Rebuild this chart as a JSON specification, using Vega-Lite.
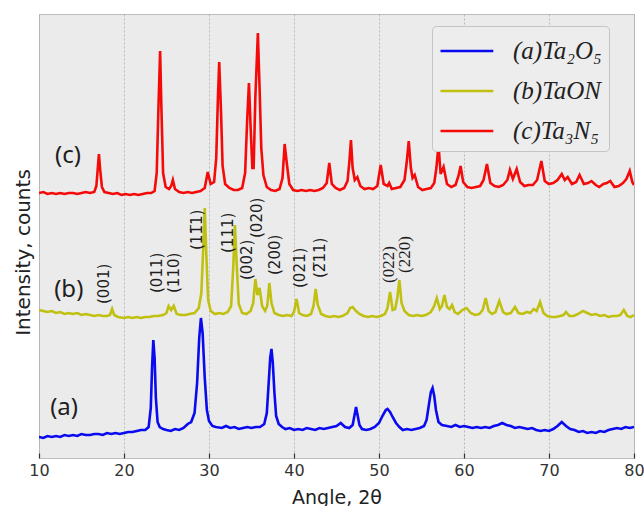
{
  "$schema": "https://vega.github.io/schema/vega-lite/v6.json",
  "width": 595,
  "height": 444,
  "autosize": {"type": "none"},
  "padding": {"left": 39, "top": 14, "right": 10, "bottom": 48},
  "background": "white",
  "config": {
    "view": {"fill": "#ebebeb", "stroke": "#bdbdbd", "strokeWidth": 1},
    "font": "DejaVu Sans"
  },
  "datasets": {
    "patterns": [
      {"s":"a","x":10,"y":21},{"s":"a","x":10.5,"y":20},{"s":"a","x":11,"y":22},{"s":"a","x":11.5,"y":21},{"s":"a","x":12,"y":22},{"s":"a","x":12.5,"y":21},{"s":"a","x":13,"y":23},{"s":"a","x":13.5,"y":22},{"s":"a","x":14,"y":23},{"s":"a","x":14.5,"y":22},{"s":"a","x":15,"y":24},{"s":"a","x":15.5,"y":23},{"s":"a","x":16,"y":23},{"s":"a","x":16.5,"y":24},{"s":"a","x":17,"y":24},{"s":"a","x":17.5,"y":23},{"s":"a","x":18,"y":25},{"s":"a","x":18.5,"y":24},{"s":"a","x":19,"y":25},{"s":"a","x":19.5,"y":24},{"s":"a","x":20,"y":25},{"s":"a","x":20.5,"y":26},{"s":"a","x":21,"y":26},{"s":"a","x":21.5,"y":27},{"s":"a","x":22,"y":28},{"s":"a","x":22.5,"y":28},{"s":"a","x":22.9,"y":31},{"s":"a","x":23.15,"y":50},{"s":"a","x":23.3,"y":90},{"s":"a","x":23.45,"y":118},{"s":"a","x":23.6,"y":100},{"s":"a","x":23.75,"y":60},{"s":"a","x":23.95,"y":36},{"s":"a","x":24.2,"y":31},{"s":"a","x":24.6,"y":29},{"s":"a","x":25,"y":28},{"s":"a","x":25.5,"y":27},{"s":"a","x":26,"y":29},{"s":"a","x":26.5,"y":28},{"s":"a","x":27,"y":30},{"s":"a","x":27.5,"y":34},{"s":"a","x":27.9,"y":36},{"s":"a","x":28.3,"y":45},{"s":"a","x":28.6,"y":75},{"s":"a","x":28.85,"y":120},{"s":"a","x":29.05,"y":140},{"s":"a","x":29.25,"y":125},{"s":"a","x":29.5,"y":80},{"s":"a","x":29.75,"y":48},{"s":"a","x":30,"y":37},{"s":"a","x":30.4,"y":32},{"s":"a","x":30.8,"y":31},{"s":"a","x":31.5,"y":30},{"s":"a","x":32,"y":32},{"s":"a","x":32.5,"y":30},{"s":"a","x":33,"y":31},{"s":"a","x":33.5,"y":29},{"s":"a","x":34,"y":30},{"s":"a","x":34.5,"y":31},{"s":"a","x":35,"y":30},{"s":"a","x":35.5,"y":31},{"s":"a","x":36,"y":31},{"s":"a","x":36.5,"y":34},{"s":"a","x":36.8,"y":45},{"s":"a","x":37,"y":72},{"s":"a","x":37.2,"y":100},{"s":"a","x":37.35,"y":109},{"s":"a","x":37.5,"y":96},{"s":"a","x":37.7,"y":65},{"s":"a","x":37.9,"y":42},{"s":"a","x":38.2,"y":34},{"s":"a","x":38.6,"y":31},{"s":"a","x":39,"y":29},{"s":"a","x":39.5,"y":30},{"s":"a","x":40,"y":28},{"s":"a","x":40.5,"y":29},{"s":"a","x":41,"y":28},{"s":"a","x":41.5,"y":30},{"s":"a","x":42,"y":29},{"s":"a","x":42.5,"y":28},{"s":"a","x":43,"y":30},{"s":"a","x":43.5,"y":29},{"s":"a","x":44,"y":30},{"s":"a","x":44.5,"y":31},{"s":"a","x":45,"y":32},{"s":"a","x":45.5,"y":35},{"s":"a","x":46,"y":31},{"s":"a","x":46.5,"y":30},{"s":"a","x":46.9,"y":33},{"s":"a","x":47.1,"y":42},{"s":"a","x":47.3,"y":51},{"s":"a","x":47.5,"y":42},{"s":"a","x":47.7,"y":33},{"s":"a","x":48,"y":29},{"s":"a","x":48.5,"y":28},{"s":"a","x":49,"y":29},{"s":"a","x":49.5,"y":31},{"s":"a","x":50,"y":35},{"s":"a","x":50.4,"y":42},{"s":"a","x":50.8,"y":48},{"s":"a","x":51,"y":49},{"s":"a","x":51.3,"y":46},{"s":"a","x":51.6,"y":41},{"s":"a","x":52,"y":35},{"s":"a","x":52.4,"y":31},{"s":"a","x":52.8,"y":28},{"s":"a","x":53.3,"y":29},{"s":"a","x":53.8,"y":28},{"s":"a","x":54.3,"y":29},{"s":"a","x":54.8,"y":30},{"s":"a","x":55.3,"y":32},{"s":"a","x":55.6,"y":38},{"s":"a","x":55.9,"y":55},{"s":"a","x":56.1,"y":66},{"s":"a","x":56.3,"y":70},{"s":"a","x":56.5,"y":62},{"s":"a","x":56.7,"y":48},{"s":"a","x":57,"y":36},{"s":"a","x":57.4,"y":33},{"s":"a","x":58,"y":32},{"s":"a","x":58.5,"y":31},{"s":"a","x":59,"y":33},{"s":"a","x":59.5,"y":31},{"s":"a","x":60,"y":32},{"s":"a","x":60.5,"y":31},{"s":"a","x":61,"y":30},{"s":"a","x":61.5,"y":31},{"s":"a","x":62,"y":30},{"s":"a","x":62.5,"y":31},{"s":"a","x":63,"y":30},{"s":"a","x":63.5,"y":32},{"s":"a","x":64,"y":33},{"s":"a","x":64.5,"y":35},{"s":"a","x":65,"y":33},{"s":"a","x":65.5,"y":32},{"s":"a","x":66,"y":30},{"s":"a","x":66.5,"y":31},{"s":"a","x":67,"y":30},{"s":"a","x":67.5,"y":29},{"s":"a","x":68,"y":30},{"s":"a","x":68.5,"y":28},{"s":"a","x":69,"y":27},{"s":"a","x":69.5,"y":28},{"s":"a","x":70,"y":27},{"s":"a","x":70.5,"y":29},{"s":"a","x":71,"y":32},{"s":"a","x":71.5,"y":36},{"s":"a","x":72,"y":32},{"s":"a","x":72.5,"y":29},{"s":"a","x":73,"y":28},{"s":"a","x":73.5,"y":26},{"s":"a","x":74,"y":27},{"s":"a","x":74.5,"y":25},{"s":"a","x":75,"y":26},{"s":"a","x":75.5,"y":25},{"s":"a","x":76,"y":27},{"s":"a","x":76.5,"y":26},{"s":"a","x":77,"y":28},{"s":"a","x":77.5,"y":29},{"s":"a","x":78,"y":30},{"s":"a","x":78.5,"y":29},{"s":"a","x":79,"y":31},{"s":"a","x":79.5,"y":30},{"s":"a","x":80,"y":31},

      {"s":"b","x":10,"y":148},{"s":"b","x":10.5,"y":147},{"s":"b","x":11,"y":146},{"s":"b","x":11.5,"y":147},{"s":"b","x":12,"y":145},{"s":"b","x":12.5,"y":146},{"s":"b","x":13,"y":144},{"s":"b","x":13.5,"y":145},{"s":"b","x":14,"y":144},{"s":"b","x":14.5,"y":145},{"s":"b","x":15,"y":143},{"s":"b","x":15.5,"y":144},{"s":"b","x":16,"y":143},{"s":"b","x":16.5,"y":142},{"s":"b","x":17,"y":143},{"s":"b","x":17.5,"y":142},{"s":"b","x":18,"y":142},{"s":"b","x":18.35,"y":143},{"s":"b","x":18.6,"y":149},{"s":"b","x":18.85,"y":143},{"s":"b","x":19.3,"y":141},{"s":"b","x":20,"y":140},{"s":"b","x":20.5,"y":141},{"s":"b","x":21,"y":140},{"s":"b","x":21.5,"y":141},{"s":"b","x":22,"y":140},{"s":"b","x":22.5,"y":141},{"s":"b","x":23,"y":141},{"s":"b","x":23.5,"y":142},{"s":"b","x":24,"y":142},{"s":"b","x":24.6,"y":143},{"s":"b","x":25,"y":145},{"s":"b","x":25.25,"y":152},{"s":"b","x":25.55,"y":148},{"s":"b","x":25.85,"y":152},{"s":"b","x":26.2,"y":144},{"s":"b","x":26.7,"y":143},{"s":"b","x":27.2,"y":143},{"s":"b","x":27.7,"y":144},{"s":"b","x":28.3,"y":145},{"s":"b","x":28.8,"y":150},{"s":"b","x":29.1,"y":165},{"s":"b","x":29.3,"y":205},{"s":"b","x":29.5,"y":250},{"s":"b","x":29.7,"y":200},{"s":"b","x":29.9,"y":158},{"s":"b","x":30.2,"y":147},{"s":"b","x":30.7,"y":144},{"s":"b","x":31.2,"y":145},{"s":"b","x":31.7,"y":144},{"s":"b","x":32.2,"y":146},{"s":"b","x":32.6,"y":152},{"s":"b","x":32.85,"y":190},{"s":"b","x":33.05,"y":233},{"s":"b","x":33.25,"y":195},{"s":"b","x":33.5,"y":154},{"s":"b","x":33.9,"y":145},{"s":"b","x":34.4,"y":144},{"s":"b","x":34.9,"y":147},{"s":"b","x":35.2,"y":155},{"s":"b","x":35.45,"y":179},{"s":"b","x":35.7,"y":163},{"s":"b","x":35.95,"y":170},{"s":"b","x":36.25,"y":152},{"s":"b","x":36.6,"y":147},{"s":"b","x":36.85,"y":152},{"s":"b","x":37.1,"y":175},{"s":"b","x":37.35,"y":155},{"s":"b","x":37.7,"y":145},{"s":"b","x":38.2,"y":143},{"s":"b","x":38.7,"y":142},{"s":"b","x":39.2,"y":143},{"s":"b","x":39.7,"y":142},{"s":"b","x":40,"y":146},{"s":"b","x":40.3,"y":159},{"s":"b","x":40.6,"y":145},{"s":"b","x":41,"y":143},{"s":"b","x":41.5,"y":142},{"s":"b","x":42,"y":144},{"s":"b","x":42.3,"y":152},{"s":"b","x":42.55,"y":169},{"s":"b","x":42.8,"y":153},{"s":"b","x":43.2,"y":144},{"s":"b","x":43.7,"y":142},{"s":"b","x":44.2,"y":141},{"s":"b","x":44.7,"y":142},{"s":"b","x":45.2,"y":141},{"s":"b","x":45.7,"y":142},{"s":"b","x":46.3,"y":145},{"s":"b","x":46.6,"y":150},{"s":"b","x":46.9,"y":151},{"s":"b","x":47.3,"y":147},{"s":"b","x":47.7,"y":144},{"s":"b","x":48.2,"y":142},{"s":"b","x":48.7,"y":141},{"s":"b","x":49.2,"y":142},{"s":"b","x":49.7,"y":141},{"s":"b","x":50.2,"y":142},{"s":"b","x":50.7,"y":144},{"s":"b","x":51,"y":150},{"s":"b","x":51.3,"y":166},{"s":"b","x":51.6,"y":148},{"s":"b","x":51.9,"y":149},{"s":"b","x":52.15,"y":160},{"s":"b","x":52.4,"y":178},{"s":"b","x":52.65,"y":155},{"s":"b","x":53,"y":147},{"s":"b","x":53.5,"y":143},{"s":"b","x":54,"y":142},{"s":"b","x":54.5,"y":143},{"s":"b","x":55,"y":142},{"s":"b","x":55.5,"y":143},{"s":"b","x":56.1,"y":146},{"s":"b","x":56.5,"y":152},{"s":"b","x":56.8,"y":160},{"s":"b","x":57.15,"y":149},{"s":"b","x":57.4,"y":152},{"s":"b","x":57.7,"y":163},{"s":"b","x":58,"y":151},{"s":"b","x":58.3,"y":149},{"s":"b","x":58.6,"y":153},{"s":"b","x":58.9,"y":146},{"s":"b","x":59.3,"y":144},{"s":"b","x":59.8,"y":148},{"s":"b","x":60.3,"y":150},{"s":"b","x":60.8,"y":145},{"s":"b","x":61.3,"y":143},{"s":"b","x":61.8,"y":144},{"s":"b","x":62.2,"y":148},{"s":"b","x":62.55,"y":160},{"s":"b","x":62.9,"y":147},{"s":"b","x":63.3,"y":144},{"s":"b","x":63.7,"y":146},{"s":"b","x":64.15,"y":157},{"s":"b","x":64.6,"y":146},{"s":"b","x":65,"y":144},{"s":"b","x":65.5,"y":145},{"s":"b","x":66,"y":151},{"s":"b","x":66.4,"y":145},{"s":"b","x":66.9,"y":144},{"s":"b","x":67.4,"y":146},{"s":"b","x":67.8,"y":145},{"s":"b","x":68.2,"y":149},{"s":"b","x":68.55,"y":147},{"s":"b","x":68.95,"y":156},{"s":"b","x":69.35,"y":145},{"s":"b","x":69.8,"y":142},{"s":"b","x":70.3,"y":141},{"s":"b","x":70.8,"y":141},{"s":"b","x":71.3,"y":142},{"s":"b","x":71.7,"y":143},{"s":"b","x":72,"y":146},{"s":"b","x":72.4,"y":142},{"s":"b","x":72.9,"y":142},{"s":"b","x":73.4,"y":144},{"s":"b","x":74,"y":147},{"s":"b","x":74.5,"y":145},{"s":"b","x":75,"y":143},{"s":"b","x":75.5,"y":144},{"s":"b","x":76,"y":142},{"s":"b","x":76.5,"y":143},{"s":"b","x":77,"y":141},{"s":"b","x":77.5,"y":142},{"s":"b","x":78,"y":142},{"s":"b","x":78.4,"y":143},{"s":"b","x":78.8,"y":148},{"s":"b","x":79.2,"y":142},{"s":"b","x":79.6,"y":141},{"s":"b","x":80,"y":143},

      {"s":"c","x":10,"y":265},{"s":"c","x":10.5,"y":266},{"s":"c","x":11,"y":264},{"s":"c","x":11.5,"y":265},{"s":"c","x":12,"y":264},{"s":"c","x":12.5,"y":265},{"s":"c","x":13,"y":264},{"s":"c","x":13.5,"y":265},{"s":"c","x":14,"y":265},{"s":"c","x":14.5,"y":264},{"s":"c","x":15,"y":265},{"s":"c","x":15.5,"y":266},{"s":"c","x":16,"y":265},{"s":"c","x":16.5,"y":266},{"s":"c","x":16.75,"y":272},{"s":"c","x":16.9,"y":288},{"s":"c","x":17.05,"y":304},{"s":"c","x":17.2,"y":288},{"s":"c","x":17.4,"y":271},{"s":"c","x":17.7,"y":266},{"s":"c","x":18.2,"y":265},{"s":"c","x":18.7,"y":264},{"s":"c","x":19.2,"y":265},{"s":"c","x":19.7,"y":263},{"s":"c","x":20.2,"y":264},{"s":"c","x":20.7,"y":263},{"s":"c","x":21.2,"y":264},{"s":"c","x":21.7,"y":263},{"s":"c","x":22.2,"y":264},{"s":"c","x":22.7,"y":265},{"s":"c","x":23.2,"y":265},{"s":"c","x":23.6,"y":267},{"s":"c","x":23.85,"y":285},{"s":"c","x":24.05,"y":350},{"s":"c","x":24.25,"y":407},{"s":"c","x":24.4,"y":350},{"s":"c","x":24.6,"y":285},{"s":"c","x":24.9,"y":271},{"s":"c","x":25.3,"y":269},{"s":"c","x":25.55,"y":272},{"s":"c","x":25.75,"y":278},{"s":"c","x":26,"y":269},{"s":"c","x":26.5,"y":266},{"s":"c","x":27,"y":265},{"s":"c","x":27.5,"y":266},{"s":"c","x":28,"y":265},{"s":"c","x":28.5,"y":266},{"s":"c","x":29,"y":267},{"s":"c","x":29.5,"y":270},{"s":"c","x":29.85,"y":286},{"s":"c","x":30.2,"y":274},{"s":"c","x":30.6,"y":276},{"s":"c","x":30.85,"y":300},{"s":"c","x":31.05,"y":360},{"s":"c","x":31.2,"y":396},{"s":"c","x":31.4,"y":350},{"s":"c","x":31.6,"y":292},{"s":"c","x":31.9,"y":274},{"s":"c","x":32.4,"y":270},{"s":"c","x":32.9,"y":268},{"s":"c","x":33.4,"y":268},{"s":"c","x":33.9,"y":270},{"s":"c","x":34.25,"y":285},{"s":"c","x":34.5,"y":340},{"s":"c","x":34.7,"y":375},{"s":"c","x":34.9,"y":330},{"s":"c","x":35.1,"y":290},{"s":"c","x":35.25,"y":290},{"s":"c","x":35.45,"y":360},{"s":"c","x":35.75,"y":425},{"s":"c","x":35.95,"y":370},{"s":"c","x":36.15,"y":310},{"s":"c","x":36.4,"y":283},{"s":"c","x":36.8,"y":271},{"s":"c","x":37.3,"y":268},{"s":"c","x":37.8,"y":267},{"s":"c","x":38.3,"y":269},{"s":"c","x":38.65,"y":280},{"s":"c","x":38.9,"y":314},{"s":"c","x":39.15,"y":295},{"s":"c","x":39.45,"y":274},{"s":"c","x":39.9,"y":268},{"s":"c","x":40.4,"y":267},{"s":"c","x":40.9,"y":268},{"s":"c","x":41.4,"y":267},{"s":"c","x":41.9,"y":268},{"s":"c","x":42.4,"y":267},{"s":"c","x":42.9,"y":268},{"s":"c","x":43.4,"y":270},{"s":"c","x":43.85,"y":275},{"s":"c","x":44.15,"y":295},{"s":"c","x":44.45,"y":274},{"s":"c","x":44.9,"y":270},{"s":"c","x":45.4,"y":268},{"s":"c","x":45.9,"y":270},{"s":"c","x":46.3,"y":277},{"s":"c","x":46.5,"y":295},{"s":"c","x":46.7,"y":318},{"s":"c","x":46.9,"y":290},{"s":"c","x":47.15,"y":278},{"s":"c","x":47.45,"y":281},{"s":"c","x":47.8,"y":272},{"s":"c","x":48.3,"y":269},{"s":"c","x":48.8,"y":270},{"s":"c","x":49.3,"y":269},{"s":"c","x":49.8,"y":272},{"s":"c","x":50.2,"y":293},{"s":"c","x":50.55,"y":274},{"s":"c","x":51,"y":272},{"s":"c","x":51.2,"y":275},{"s":"c","x":51.5,"y":269},{"s":"c","x":52,"y":270},{"s":"c","x":52.5,"y":271},{"s":"c","x":53,"y":278},{"s":"c","x":53.25,"y":295},{"s":"c","x":53.5,"y":317},{"s":"c","x":53.75,"y":290},{"s":"c","x":53.95,"y":280},{"s":"c","x":54.2,"y":283},{"s":"c","x":54.6,"y":271},{"s":"c","x":55.1,"y":268},{"s":"c","x":55.6,"y":269},{"s":"c","x":56.1,"y":270},{"s":"c","x":56.5,"y":275},{"s":"c","x":56.75,"y":290},{"s":"c","x":57,"y":313},{"s":"c","x":57.25,"y":284},{"s":"c","x":57.6,"y":291},{"s":"c","x":58,"y":274},{"s":"c","x":58.5,"y":271},{"s":"c","x":59,"y":273},{"s":"c","x":59.35,"y":282},{"s":"c","x":59.6,"y":292},{"s":"c","x":59.9,"y":276},{"s":"c","x":60.4,"y":271},{"s":"c","x":60.9,"y":270},{"s":"c","x":61.4,"y":271},{"s":"c","x":61.9,"y":272},{"s":"c","x":62.3,"y":278},{"s":"c","x":62.7,"y":294},{"s":"c","x":63.1,"y":275},{"s":"c","x":63.6,"y":272},{"s":"c","x":64.1,"y":271},{"s":"c","x":64.6,"y":273},{"s":"c","x":65.1,"y":278},{"s":"c","x":65.4,"y":288},{"s":"c","x":65.75,"y":279},{"s":"c","x":66.2,"y":289},{"s":"c","x":66.6,"y":276},{"s":"c","x":67.1,"y":272},{"s":"c","x":67.6,"y":273},{"s":"c","x":68.1,"y":273},{"s":"c","x":68.6,"y":278},{"s":"c","x":69.1,"y":297},{"s":"c","x":69.5,"y":277},{"s":"c","x":70,"y":274},{"s":"c","x":70.5,"y":275},{"s":"c","x":71,"y":278},{"s":"c","x":71.5,"y":284},{"s":"c","x":71.85,"y":278},{"s":"c","x":72.2,"y":281},{"s":"c","x":72.7,"y":274},{"s":"c","x":73.2,"y":276},{"s":"c","x":73.6,"y":283},{"s":"c","x":74.1,"y":274},{"s":"c","x":74.6,"y":275},{"s":"c","x":75,"y":277},{"s":"c","x":75.5,"y":273},{"s":"c","x":75.9,"y":271},{"s":"c","x":76.4,"y":274},{"s":"c","x":76.8,"y":275},{"s":"c","x":77.2,"y":277},{"s":"c","x":77.7,"y":271},{"s":"c","x":78.2,"y":272},{"s":"c","x":78.7,"y":275},{"s":"c","x":79.1,"y":279},{"s":"c","x":79.5,"y":287},{"s":"c","x":79.8,"y":276},{"s":"c","x":80,"y":273}
    ],
    "reflections": [
      {"x":17.7,"y":154,"hkl":"(001)","face":"sans"},
      {"x":23.94,"y":165,"hkl":"(011)","face":"sans"},
      {"x":25.94,"y":165,"hkl":"(110)","face":"sans"},
      {"x":28.55,"y":208,"hkl":"(11̅1)","face":"sans"},
      {"x":32.2,"y":205,"hkl":"(111)","face":"sans"},
      {"x":34.5,"y":178,"hkl":"(002)","face":"sans"},
      {"x":35.7,"y":220,"hkl":"(020)","face":"sans"},
      {"x":37.8,"y":183,"hkl":"(200)","face":"sans"},
      {"x":40.65,"y":170,"hkl":"(021)","face":"sans"},
      {"x":43.1,"y":180,"hkl":"(2̅11)","face":"sans"},
      {"x":51.2,"y":175,"hkl":"(022)","face":"serif"},
      {"x":53.1,"y":185,"hkl":"(220)","face":"serif"}
    ],
    "curveNames": [
      {"x":13.4,"y":302,"name":"(c)"},
      {"x":13.5,"y":168,"name":"(b)"},
      {"x":12.95,"y":50,"name":"(a)"}
    ]
  },
  "layer": [
    {
      "data": {"name": "patterns"},
      "mark": {"type": "line", "strokeWidth": 2.6, "clip": true},
      "encoding": {
        "x": {
          "field": "x", "type": "quantitative",
          "scale": {"domain": [10, 80], "nice": false, "zero": false},
          "axis": {
            "values": [10, 20, 30, 40, 50, 60, 70, 80],
            "format": "d",
            "domain": false,
            "grid": true, "gridColor": "#ababab", "gridDash": [2, 2], "gridWidth": 0.8,
            "ticks": true, "tickSize": -5, "tickColor": "#333333", "tickWidth": 1.2,
            "labelFont": "DejaVu Sans", "labelFontSize": 16, "labelColor": "#333333", "labelPadding": 9,
            "labelFlush": false,
            "title": "Angle, 2θ", "titleFont": "DejaVu Sans", "titleFontSize": 19,
            "titleFontWeight": "normal", "titleColor": "#222222", "titlePadding": 10
          }
        },
        "y": {
          "field": "y", "type": "quantitative",
          "scale": {"domain": [0, 444], "nice": false},
          "axis": {
            "domain": false, "ticks": false, "labels": false, "grid": false,
            "title": "Intensity, counts", "titleFont": "DejaVu Sans", "titleFontSize": 20,
            "titleFontWeight": "normal", "titleColor": "#222222",
            "titleAngle": 270, "titleX": -16, "titleY": 238, "titleBaseline": "middle", "titleAlign": "center"
          }
        },
        "color": {
          "field": "s", "type": "nominal",
          "scale": {"domain": ["a", "b", "c"], "range": ["#0a0af0", "#c0c010", "#f50a0a"]},
          "legend": {
            "orient": "none", "legendX": 393, "legendY": 12,
            "title": null,
            "labelExpr": "datum.label == 'a' ? '(a)Ta₂O₅' : datum.label == 'b' ? '(b)TaON' : '(c)Ta₃N₅'",
            "symbolType": "M-1,0H2.2", "symbolSize": 1089, "symbolStrokeWidth": 2.5,
            "labelFont": "Liberation Serif", "labelFontStyle": "italic", "labelFontSize": 25,
            "labelColor": "#222222", "labelOffset": 38,
            "padding": 7, "rowPadding": 9,
            "fillColor": "#ededed", "strokeColor": "#c4c4c4", "cornerRadius": 4
          }
        }
      }
    },
    {
      "data": {"name": "reflections"},
      "transform": [{"filter": "datum.face == 'sans'"}],
      "mark": {"type": "text", "angle": 270, "align": "left", "baseline": "middle", "font": "DejaVu Sans", "fontSize": 15, "color": "#1e1e1e"},
      "encoding": {
        "x": {"field": "x", "type": "quantitative"},
        "y": {"field": "y", "type": "quantitative"},
        "text": {"field": "hkl"}
      }
    },
    {
      "data": {"name": "reflections"},
      "transform": [{"filter": "datum.face == 'serif'"}],
      "mark": {"type": "text", "angle": 270, "align": "left", "baseline": "middle", "font": "Liberation Serif", "fontSize": 17, "color": "#1e1e1e"},
      "encoding": {
        "x": {"field": "x", "type": "quantitative"},
        "y": {"field": "y", "type": "quantitative"},
        "text": {"field": "hkl"}
      }
    },
    {
      "data": {"name": "curveNames"},
      "mark": {"type": "text", "align": "center", "baseline": "middle", "font": "Noto Sans", "fontSize": 24, "color": "#1e1e1e"},
      "encoding": {
        "x": {"field": "x", "type": "quantitative"},
        "y": {"field": "y", "type": "quantitative"},
        "text": {"field": "name"}
      }
    }
  ]
}
